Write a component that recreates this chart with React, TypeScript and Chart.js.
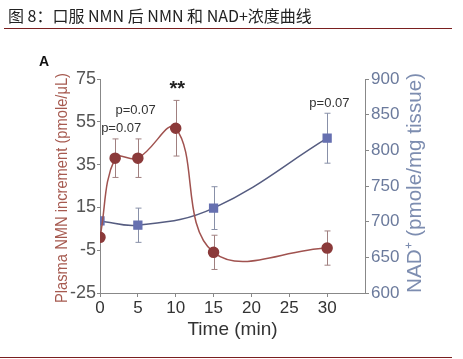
import React, { useEffect, useRef } from "react";
import { Chart, registerables } from "chart.js";

Chart.register(...registerables);

const titleText = "图 8：口服 NMN 后 NMN 和 NAD+浓度曲线";
const timeNMN = [0, 2, 5, 10, 15, 30];
const nmnValues = [1, 38, 38, 52, -6, -4];
const nmnErrors = [0, 9, 9, 13, 8, 8];
const timeNAD = [0, 5, 15, 30];
const nadValues = [701, 695, 719, 817];
const nadErrors = [0, 24, 30, 35];
const xTicks = [0, 5, 10, 15, 20, 25, 30];
const leftTicks = [75, 55, 35, 15, -5, -25];
const rightTicks = [900, 850, 800, 750, 700, 650, 600];

const NARROW = '"Liberation Sans Narrow", "Liberation Sans", Arial, sans-serif';
const SANS = '"Liberation Sans", Arial, sans-serif';

const errorBars = {
  id: "errorBars",
  beforeDatasetsDraw(chart: any) {
    const ctx = chart.ctx;
    const x = chart.scales.x;
    const sets = [
      { t: timeNMN, v: nmnValues, e: nmnErrors, s: chart.scales.y, c: "#a08080" },
      { t: timeNAD, v: nadValues, e: nadErrors, s: chart.scales.y2, c: "#8890a8" },
    ];
    ctx.save();
    ctx.lineWidth = 1;
    for (const set of sets) {
      ctx.strokeStyle = set.c;
      set.t.forEach((t, i) => {
        if (!set.e[i]) return;
        const px = Math.round(x.getPixelForValue(t)) + 0.5;
        const top = set.s.getPixelForValue(set.v[i] + set.e[i]);
        const bot = set.s.getPixelForValue(set.v[i] - set.e[i]);
        ctx.beginPath();
        ctx.moveTo(px, top);
        ctx.lineTo(px, bot);
        ctx.moveTo(px - 3, top);
        ctx.lineTo(px + 3, top);
        ctx.moveTo(px - 3, bot);
        ctx.lineTo(px + 3, bot);
        ctx.stroke();
      });
    }
    ctx.restore();
  },
};

const decor = {
  id: "decor",
  afterDraw(chart: any) {
    const ctx = chart.ctx;
    const x = chart.scales.x;
    const y = chart.scales.y;
    const y2 = chart.scales.y2;
    ctx.save();
    // header
    ctx.fillStyle = "#222";
    ctx.font = '16px "Noto Sans CJK SC", sans-serif';
    ctx.textBaseline = "middle";
    ctx.textAlign = "left";
    ctx.fillText(titleText, 8, 16, 308);
    ctx.strokeStyle = "#7a1f1f";
    ctx.lineWidth = 1.2;
    ctx.beginPath();
    ctx.moveTo(4, 28.5);
    ctx.lineTo(452, 28.5);
    ctx.moveTo(0, 357.5);
    ctx.lineTo(452, 357.5);
    ctx.stroke();
    // panel letter
    ctx.fillStyle = "#111";
    ctx.font = 'bold 14px ' + SANS;
    ctx.textAlign = "center";
    ctx.fillText("A", 44, 62);
    // x title
    ctx.fillStyle = "#333";
    ctx.font = '19px ' + SANS;
    ctx.fillText("Time (min)", (x.left + x.right) / 2, 330);
    // left title
    ctx.save();
    ctx.translate(62, (y.top + y.bottom) / 2 + 2);
    ctx.rotate(-Math.PI / 2);
    ctx.fillStyle = "#a65a50";
    ctx.font = '17px ' + NARROW;
    ctx.fillText("Plasma NMN increment (pmole/μL)", 0, 0, 230);
    ctx.restore();
    // right title
    ctx.save();
    ctx.translate(415, (y2.top + y2.bottom) / 2 - 3);
    ctx.rotate(-Math.PI / 2);
    ctx.fillStyle = "#7d8db0";
    ctx.font = '21px ' + SANS;
    ctx.fillText("NAD\u207A (pmole/mg tissue)", 0, 0, 220);
    ctx.restore();
    // annotations
    ctx.fillStyle = "#222";
    ctx.font = 'bold 20px ' + SANS;
    ctx.fillText("**", x.getPixelForValue(10.2), y.getPixelForValue(70));
    ctx.fillStyle = "#333";
    ctx.font = '13px ' + NARROW;
    ctx.fillText("p=0.07", x.getPixelForValue(4.7), y.getPixelForValue(60.5));
    ctx.fillText("p=0.07", x.getPixelForValue(2.8), y.getPixelForValue(52));
    ctx.fillText("p=0.07", x.getPixelForValue(30.3), y2.getPixelForValue(866));
    ctx.restore();
  },
};

function App() {
  const ref = useRef<HTMLCanvasElement | null>(null);
  useEffect(() => {
    if (!ref.current) return;
    const zeroPad = (s: any) => {
      s.paddingTop = 0;
      s.paddingBottom = 0;
    };
    const chart = new Chart(ref.current, {
      type: "line",
      data: {
        datasets: [
          {
            label: "NMN",
            data: timeNMN.map((t, i) => ({ x: t, y: nmnValues[i] })),
            yAxisID: "y",
            borderColor: "#a0524f",
            borderWidth: 1.5,
            backgroundColor: "#8b3a3a",
            pointBackgroundColor: "#8b3a3a",
            pointBorderColor: "#8b3a3a",
            pointRadius: 5,
            pointStyle: "circle",
            tension: 0.4,
          },
          {
            label: "NAD",
            data: timeNAD.map((t, i) => ({ x: t, y: nadValues[i] })),
            yAxisID: "y2",
            borderColor: "#555c80",
            borderWidth: 1.5,
            backgroundColor: "#6670b0",
            pointBackgroundColor: "#6670b0",
            pointBorderColor: "#6670b0",
            pointRadius: 5.5,
            pointStyle: "rect",
            tension: 0.4,
          },
        ],
      },
      options: {
        animation: false,
        responsive: false,
        devicePixelRatio: 1,
        layout: { padding: { top: 79, left: 0, right: 0, bottom: 0 } },
        plugins: { legend: { display: false }, tooltip: { enabled: false } },
        scales: {
          x: {
            type: "linear",
            min: 0,
            max: 35,
            afterFit: (s: any) => {
              s.height = 66;
              s.paddingLeft = 0;
              s.paddingRight = 0;
            },
            afterBuildTicks: (s: any) => {
              s.ticks = xTicks.map((v) => ({ value: v }));
            },
            grid: { drawOnChartArea: false, tickLength: 4, color: "#888", lineWidth: 1 },
            border: { color: "#888", width: 1 },
            ticks: { color: "#333", font: { family: NARROW, size: 17 }, padding: 1, maxRotation: 0 },
          },
          y: {
            type: "linear",
            position: "left",
            min: -25,
            max: 75,
            afterFit: (s: any) => {
              s.width = 100;
              zeroPad(s);
            },
            afterBuildTicks: (s: any) => {
              const t: any[] = [];
              for (let v = -25; v <= 75; v += 10) t.push({ value: v });
              s.ticks = t;
            },
            grid: { drawOnChartArea: false, tickLength: 3, color: "#888" },
            border: { color: "#888", width: 1 },
            ticks: {
              color: "#555",
              font: { family: NARROW, size: 18 },
              padding: 1,
              callback: (v: any) => (leftTicks.includes(Number(v)) ? String(v) : ""),
            },
          },
          y2: {
            type: "linear",
            position: "right",
            min: 600,
            max: 900,
            afterFit: (s: any) => {
              s.width = 98;
              zeroPad(s);
            },
            afterBuildTicks: (s: any) => {
              s.ticks = rightTicks.map((v) => ({ value: v }));
            },
            grid: { drawOnChartArea: false, tickLength: 4, color: "#888" },
            border: { color: "#888", width: 1 },
            ticks: { color: "#6b7a9c", font: { family: NARROW, size: 17 }, padding: 2 },
          },
        },
      } as any,
      plugins: [errorBars, decor],
    });
    return () => chart.destroy();
  }, []);
  return (
    <div style={{ position: "absolute", left: 0, top: 0, width: 463, height: 359, background: "#fff" }}>
      <canvas ref={ref} width={463} height={359} style={{ width: 463, height: 359, display: "block" }} />
    </div>
  );
}

export default App;
